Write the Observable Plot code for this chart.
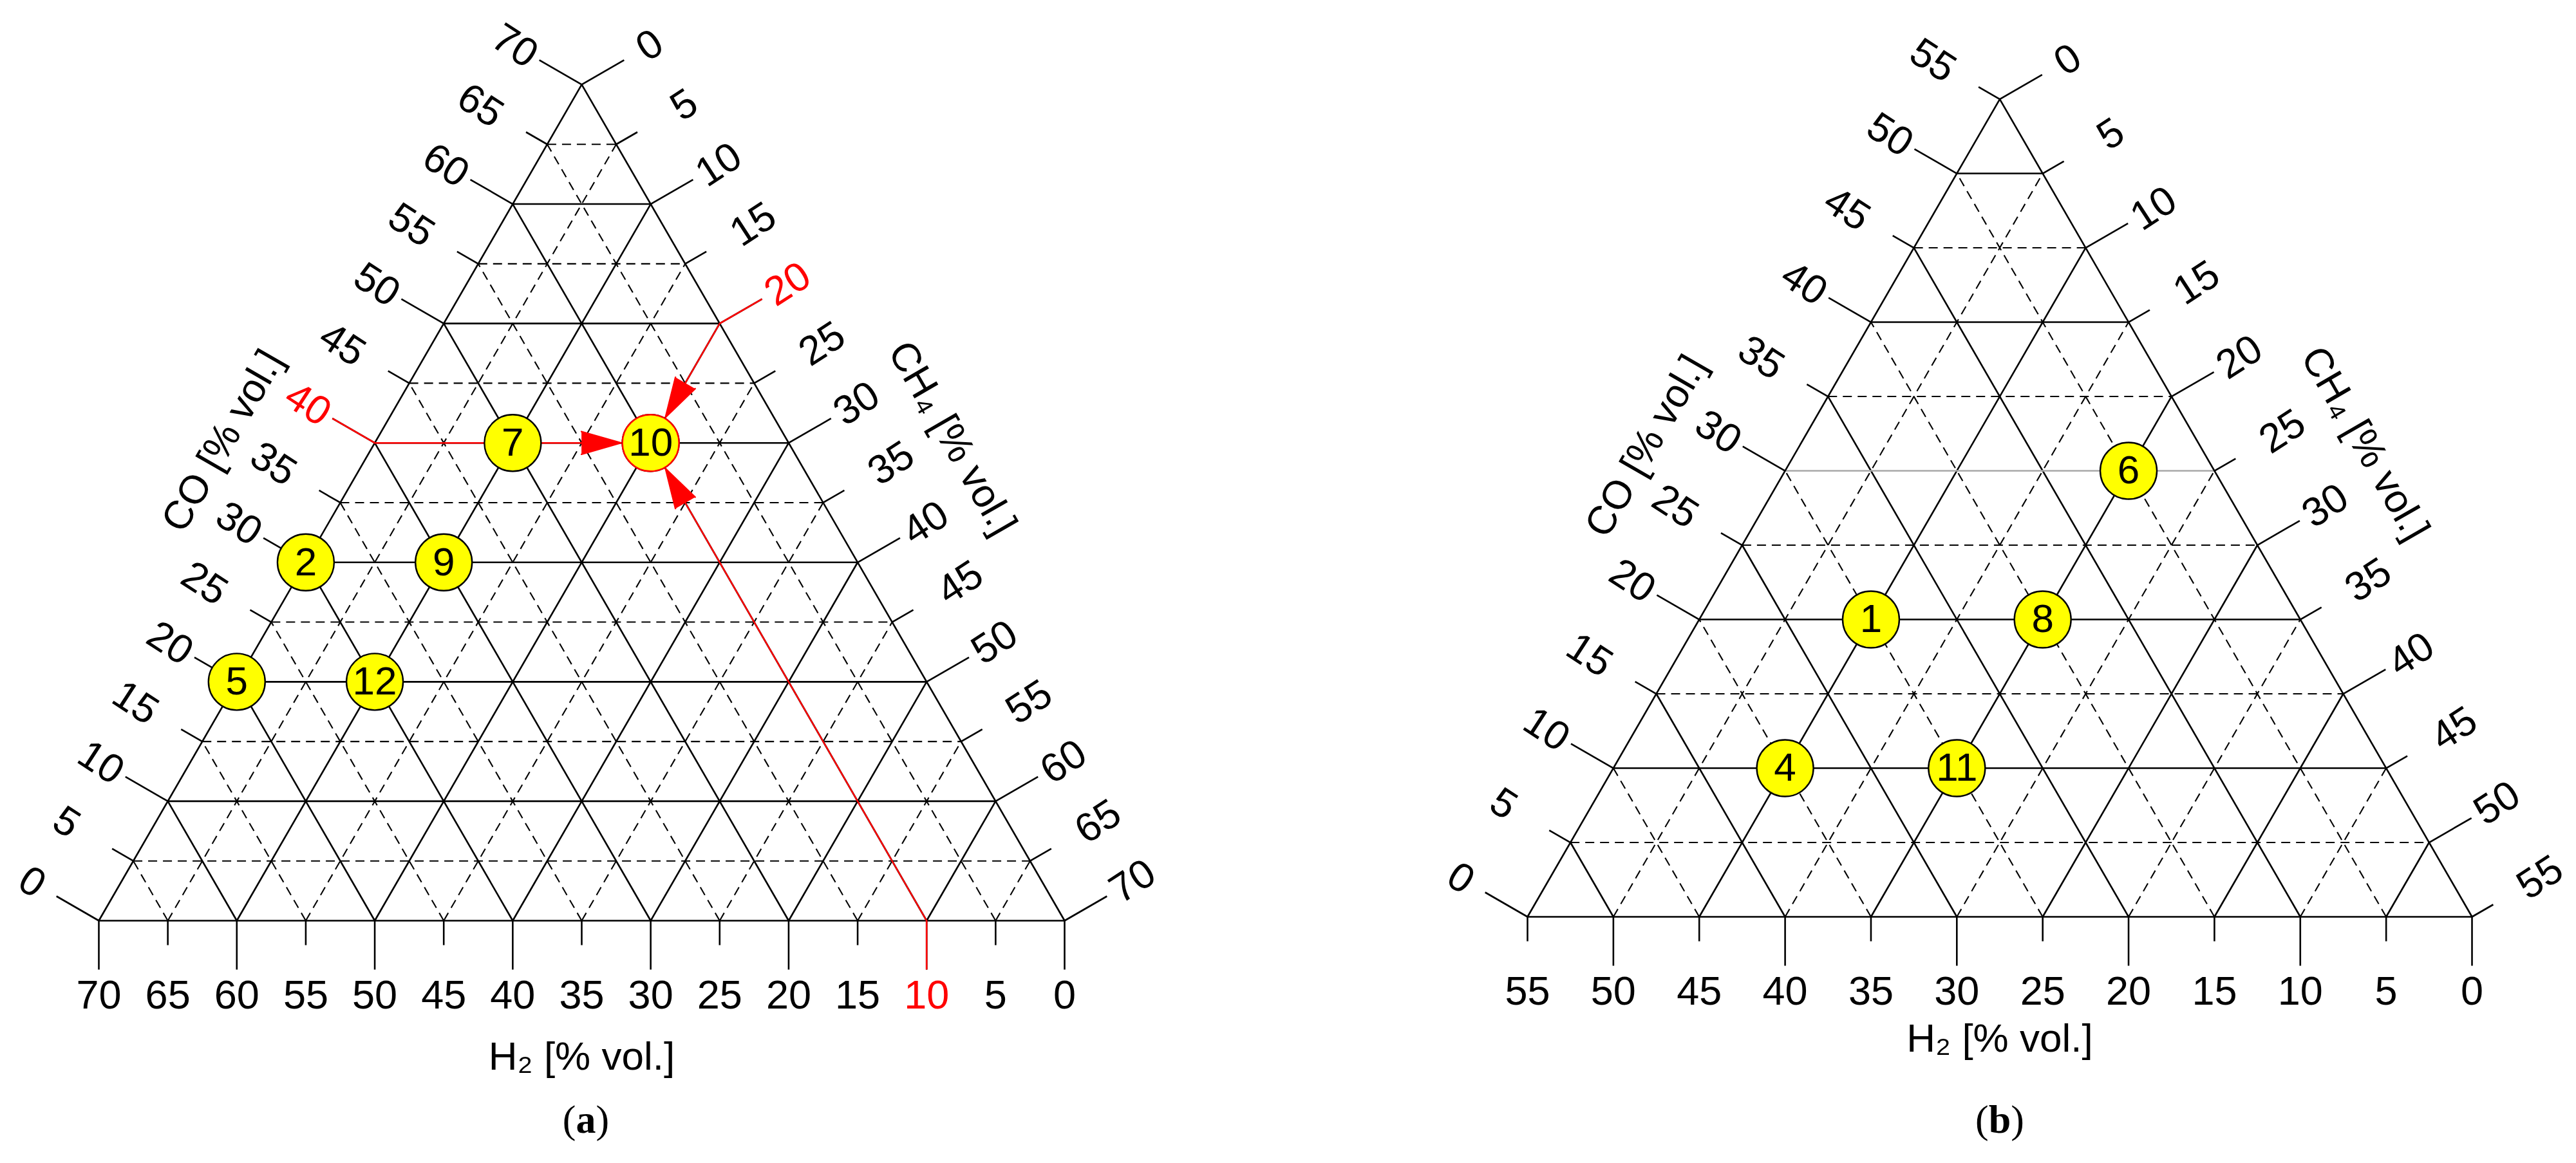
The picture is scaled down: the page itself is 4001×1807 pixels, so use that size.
<!DOCTYPE html>
<html>
<head>
<meta charset="utf-8">
<script src="https://cdn.jsdelivr.net/npm/d3@7"></script>
<script src="https://cdn.jsdelivr.net/npm/@observablehq/plot@0.6"></script>
<style>
  html, body { margin: 0; padding: 0; background: #fff; }
  #wrap { position: relative; width: 4001px; height: 1807px; overflow: hidden; background: #fff; }
  #row { display: flex; }
  .cap { position: absolute; top: 1708px; width: 400px; text-align: center;
         font-family: "Liberation Serif", "Times New Roman", serif; font-size: 62px; line-height: 62px; color: #000; }
</style>
</head>
<body>
<div id="wrap">
  <div id="row"><div id="pa"></div><div id="pb"></div></div>
  <div class="cap" style="left:710px">(<b>a</b>)</div>
  <div class="cap" style="left:2906px">(<b>b</b>)</div>
</div>
<script>
// ---------------- data ----------------
// Panel (a): components sum to 70 % vol.
const panelA_max = 70;
const panelA_ids = [2, 5, 7, 9, 10, 12];
const panelA_CO  = [30, 20, 40, 30, 40, 20];
const panelA_CH4 = [0, 0, 10, 10, 20, 10];
const panelA_H2  = [40, 50, 20, 30, 10, 40];
// highlighted reading example in panel (a)
const panelA_hiId = 10;
const panelA_hiCO = 40;
const panelA_hiCH4 = 20;
const panelA_hiH2 = 10;

// Panel (b): components sum to 55 % vol.
const panelB_max = 55;
const panelB_ids = [1, 4, 6, 8, 11];
const panelB_CO  = [20, 10, 30, 20, 10];
const panelB_CH4 = [10, 10, 20, 20, 20];
const panelB_H2  = [25, 35, 5, 15, 25];

const tickStep = 5;
const axisTitles = {H2: "H₂ [% vol.]", CO: "CO [% vol.]", CH4: "CH₄ [% vol.]"};

// ---------------- drawing ----------------
const SQ = Math.sqrt(3) / 2;
const FONT = "Liberation Sans, Arial, Helvetica, sans-serif";

function makeRows(ids, CO, CH4, H2) {
  return ids.map((id, i) => ({id, CO: CO[i], CH4: CH4[i], H2: H2[i]}));
}

function ternary(cfg) {
  const {M, side, x0, y0, width, height, points, hi, titleBottomDy, grayCO} = cfg;
  const k = side / M; // px per unit
  const P = (co, ch4) => ({x: ch4 + co / 2, y: co * SQ});
  const seg = (a, b) => ({x1: a.x, y1: a.y, x2: b.x, y2: b.y});
  const vals = d3.range(0, M + 0.001, tickStep);

  const grid = [];
  for (const v of vals) {
    if (v === 0 || v === M) continue;
    const major = v % 10 === 0;
    grid.push({...seg(P(v, 0), P(v, M - v)), major, gray: (grayCO || []).includes(v)});
    grid.push({...seg(P(0, v), P(M - v, v)), major, gray: false});
    grid.push({...seg(P(0, M - v), P(M - v, 0)), major, gray: false});
  }
  const edges = [seg(P(0, 0), P(0, M)), seg(P(0, M), P(M, 0)), seg(P(M, 0), P(0, 0))];

  const dirs = {H2: [0, -1], CO: [-SQ, 0.5], CH4: [SQ, 0.5]};
  const ticks = [];
  for (const v of vals) {
    const len = (v % 10 === 0 ? 76 : 38) / k;
    const base = {H2: P(0, M - v), CO: P(v, 0), CH4: P(M - v, v)};
    for (const ax of ["H2", "CO", "CH4"]) {
      const b = base[ax], d = dirs[ax];
      ticks.push({axis: ax, v, x1: b.x, y1: b.y, x2: b.x + d[0] * len, y2: b.y + d[1] * len,
                  red: !!hi && hi[ax] === v});
    }
  }
  const lab = ax => ticks.filter(t => t.axis === ax);

  const rows = points.map(p => ({...p, ...P(p.CO, p.CH4)}));
  const SW = 2.6;

  const marks = [
    Plot.link(grid.filter(g => !g.major), {x1: "x1", y1: "y1", x2: "x2", y2: "y2",
      stroke: "#000", strokeWidth: 2.1, strokeDasharray: "14,9"}),
    Plot.link(grid.filter(g => g.major && !g.gray), {x1: "x1", y1: "y1", x2: "x2", y2: "y2",
      stroke: "#000", strokeWidth: SW}),
    Plot.link(grid.filter(g => g.major && g.gray), {x1: "x1", y1: "y1", x2: "x2", y2: "y2",
      stroke: "#a8a8a8", strokeWidth: SW}),
    Plot.link(edges, {x1: "x1", y1: "y1", x2: "x2", y2: "y2", stroke: "#000", strokeWidth: SW}),
    Plot.link(ticks, {x1: "x1", y1: "y1", x2: "x2", y2: "y2", stroke: "#000", strokeWidth: SW}),
    // tick labels
    Plot.text(lab("H2").filter(t => !t.red), {x: "x1", y: "y1", text: d => String(d.v),
      dy: 116, fontSize: 63, fill: "#000", fontFamily: FONT}),
    Plot.text(lab("CO").filter(t => !t.red), {x: "x1", y: "y1", text: d => String(d.v),
      dx: -SQ * 120, dy: -60, rotate: 33, fontSize: 63, fill: "#000", fontFamily: FONT}),
    Plot.text(lab("CH4").filter(t => !t.red), {x: "x1", y: "y1", text: d => String(d.v),
      dx: SQ * 122, dy: -61, rotate: -33, fontSize: 63, fill: "#000", fontFamily: FONT}),
    // axis titles
    Plot.text([P(0, M / 2)], {x: "x", y: "y", text: () => axisTitles.H2, dy: titleBottomDy,
      fontSize: 62, fill: "#000", fontFamily: FONT}),
    Plot.text([P(M / 2, 0)], {x: "x", y: "y", text: () => axisTitles.CO, dx: -SQ * 220 + 8, dy: -110 + 14,
      rotate: -60, fontSize: 62, fill: "#000", fontFamily: FONT}),
    Plot.text([P(M / 2, M / 2)], {x: "x", y: "y", text: () => axisTitles.CH4, dx: SQ * 220 + 10, dy: -110 + 10,
      rotate: 60, fontSize: 62, fill: "#000", fontFamily: FONT})
  ];

  if (hi) {
    const target = P(hi.CO, hi.CH4);
    const sources = [P(hi.CO, 0), P(M - hi.CH4, hi.CH4), P(0, M - hi.H2)];
    const arrows = sources.map(s => seg(s, target));
    marks.push(
      Plot.link(ticks.filter(t => t.red), {x1: "x1", y1: "y1", x2: "x2", y2: "y2", stroke: "red", strokeWidth: SW}),
      Plot.arrow(arrows, {x1: "x1", y1: "y1", x2: "x2", y2: "y2", stroke: "red", fill: "red",
        strokeWidth: 2.4, headLength: 40, headAngle: 32, insetEnd: 46}),
      Plot.text(lab("H2").filter(t => t.red), {x: "x1", y: "y1", text: d => String(d.v),
        dy: 116, fontSize: 63, fill: "red", fontFamily: FONT}),
      Plot.text(lab("CO").filter(t => t.red), {x: "x1", y: "y1", text: d => String(d.v),
        dx: -SQ * 120, dy: -60, rotate: 33, fontSize: 63, fill: "red", fontFamily: FONT}),
      Plot.text(lab("CH4").filter(t => t.red), {x: "x1", y: "y1", text: d => String(d.v),
        dx: SQ * 122, dy: -61, rotate: -33, fontSize: 63, fill: "red", fontFamily: FONT})
    );
  }

  marks.push(
    Plot.dot(rows, {x: "x", y: "y", r: 44, fill: "#ffff00", stroke: "#000", strokeWidth: 2.4}),
    Plot.dot(rows.filter(r => hi && r.id === hi.id), {x: "x", y: "y", r: 44, fill: "#ffff00", stroke: "red", strokeWidth: 2.4}),
    Plot.text(rows, {x: "x", y: "y", text: d => String(d.id), fontSize: 62, fill: "#000", fontFamily: FONT})
  );

  return Plot.plot({
    width, height,
    marginTop: 0, marginRight: 0, marginBottom: 0, marginLeft: 0,
    x: {domain: [0, M], range: [x0, x0 + side], axis: null},
    y: {domain: [0, M * SQ], range: [y0, y0 - side * SQ], axis: null},
    style: {background: "#fff", fontFamily: FONT, overflow: "visible"},
    marks
  });
}

const svgA = ternary({
  M: panelA_max, side: 1500, x0: 153, y0: 1430, width: 2000, height: 1700,
  points: makeRows(panelA_ids, panelA_CO, panelA_CH4, panelA_H2),
  hi: {id: panelA_hiId, CO: panelA_hiCO, CH4: panelA_hiCH4, H2: panelA_hiH2},
  titleBottomDy: 212
});
const svgB = ternary({
  M: panelB_max, side: 1467, x0: 372, y0: 1424, width: 2001, height: 1700,
  points: makeRows(panelB_ids, panelB_CO, panelB_CH4, panelB_H2),
  hi: null, titleBottomDy: 190, grayCO: [30]
});
document.getElementById("pa").appendChild(svgA);
document.getElementById("pb").appendChild(svgB);
</script>
</body>
</html>
